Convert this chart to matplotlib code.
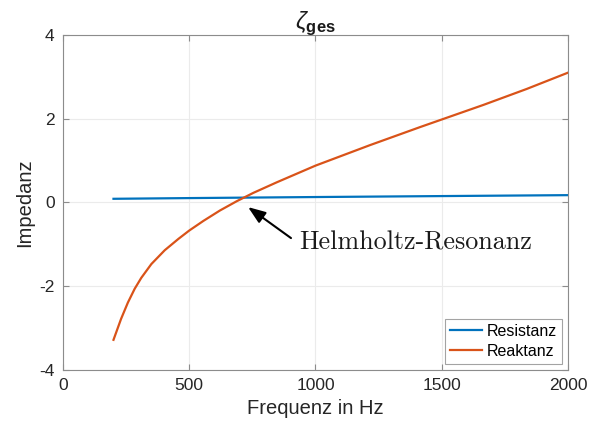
import matplotlib
matplotlib.use("Agg")
import matplotlib.pyplot as plt

plt.rcParams["font.family"] = ["Liberation Sans", "DejaVu Sans"]
plt.rcParams["axes.unicode_minus"] = False
plt.rcParams["mathtext.fontset"] = "custom"
plt.rcParams["mathtext.it"] = "Liberation Sans:italic"
plt.rcParams["mathtext.bf"] = "Liberation Sans:bold"
plt.rcParams["mathtext.rm"] = "Liberation Sans"

# Frequency response of the total impedance
freq_res = [200, 500, 1000, 1500, 2000]
resistanz = [0.088, 0.105, 0.13, 0.153, 0.175]

freq_rea = [200, 230, 257, 284, 310, 350, 403, 457, 500, 556, 622, 688, 754,
            846, 1000, 1216, 1414, 1665, 1836, 2000]
reaktanz = [-3.28, -2.78, -2.39, -2.06, -1.80, -1.47, -1.14, -0.87, -0.67, -0.44,
            -0.19, 0.03, 0.23, 0.48, 0.88, 1.37, 1.80, 2.33, 2.71, 3.10]

xticks = [0, 500, 1000, 1500, 2000]
yticks = [-4, -2, 0, 2, 4]

resonance_tip = (733, -0.11)
resonance_tail = (903, -0.85)
resonance_text = (935, -0.97)

fig = plt.figure(figsize=(6.11, 4.34), dpi=100)
ax = fig.add_axes([0.1031, 0.1475, 0.8265, 0.7719])

ax.plot(freq_res, resistanz, color="#0072BD", lw=1.6, label="Resistanz")
ax.plot(freq_rea, reaktanz, color="#D95319", lw=1.6, label="Reaktanz",
        solid_joinstyle="round")

ax.set_xlim(0, 2000)
ax.set_ylim(-4, 4)
ax.set_xticks(xticks)
ax.set_yticks(yticks)
ax.grid(True, color="#ebebeb", lw=0.8)
ax.set_axisbelow(True)

for sp in ax.spines.values():
    sp.set_color("#8c8c8c")
    sp.set_linewidth(0.8)
ax.tick_params(direction="in", length=4, width=0.8, color="#8c8c8c",
               labelsize=12.5, labelcolor="#262626", top=True, right=True, pad=6)

ax.set_xlabel("Frequenz in Hz", fontsize=14.5, color="#262626", labelpad=4)
ax.set_ylabel("Impedanz", fontsize=14.5, color="#262626", labelpad=4)
ax.set_title(r"$\zeta_{\mathbf{ges}}$", fontsize=17, color="#1a1a1a", pad=4)

ax.annotate("", xy=resonance_tip, xytext=resonance_tail,
            arrowprops=dict(arrowstyle="-|>,head_length=0.75,head_width=0.28",
                            color="black", lw=1.5, mutation_scale=14,
                            shrinkA=0, shrinkB=0))
ax.text(resonance_text[0], resonance_text[1], "Helmholtz-Resonanz",
        family="cmr10", fontsize=18.8, color="#1a1a1a", ha="left", va="center")

leg = ax.legend(loc="lower right", fontsize=11.5, frameon=True, fancybox=False,
                edgecolor="#8c8c8c", handlelength=2.0, handletextpad=0.3,
                borderpad=0.3, labelspacing=0.3, borderaxespad=0.4)
leg.get_frame().set_linewidth(0.8)

fig.savefig("out.png", dpi=100)
